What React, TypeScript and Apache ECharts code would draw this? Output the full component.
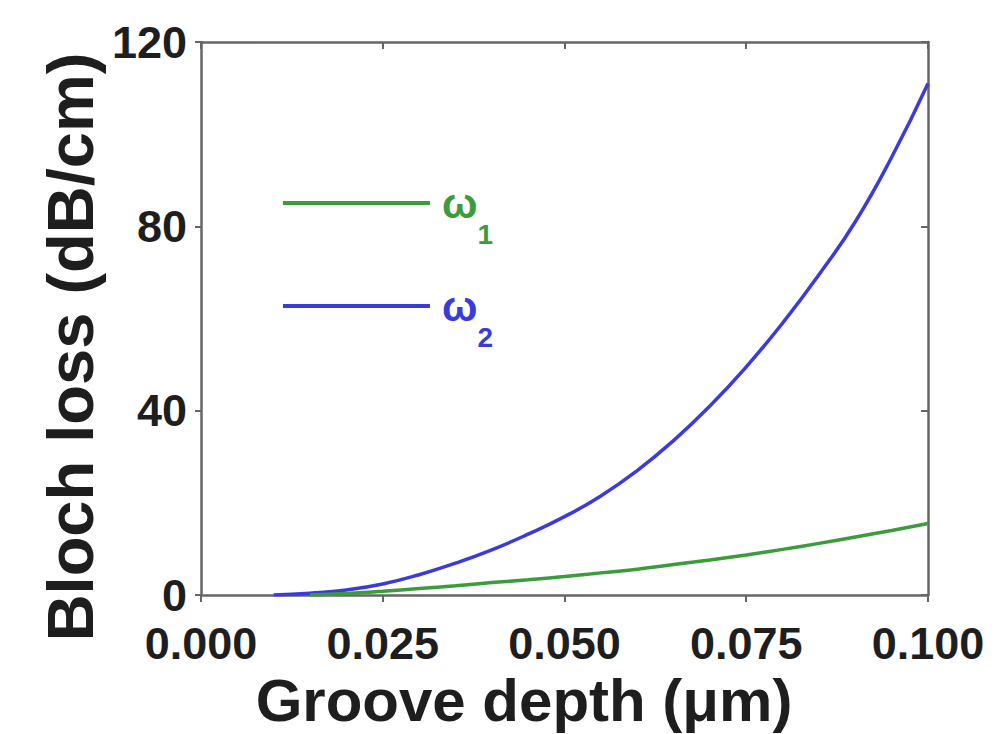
import React, { useEffect, useRef } from "react";
import * as echarts from "echarts";

const depthBlue = [0.010, 0.015, 0.020, 0.025, 0.030, 0.035, 0.040, 0.045, 0.050, 0.055, 0.060, 0.065, 0.070, 0.075, 0.080, 0.085, 0.090, 0.095, 0.100];
const lossOmega2 = [0, 0.4, 1.1, 2.4, 4.4, 6.9, 9.8, 13.2, 17.0, 21.5, 27.0, 33.5, 41.0, 49.5, 59.0, 69.5, 81.0, 95.0, 111.0];
const depthGreen = [0.015, 0.020, 0.025, 0.030, 0.035, 0.040, 0.045, 0.050, 0.055, 0.060, 0.065, 0.070, 0.075, 0.080, 0.085, 0.090, 0.095, 0.100];
const lossOmega1 = [0, 0.3, 0.8, 1.4, 2.0, 2.7, 3.3, 4.0, 4.8, 5.6, 6.6, 7.6, 8.7, 9.9, 11.2, 12.6, 14.0, 15.5];

const xTitle = "Groove depth (\u03bcm)";
const yTitle = "Bloch loss (dB/cm)";
const seriesNames = ["\u03c91", "\u03c92"];
const subscripts = ["1", "2"];

const FONT = "'Liberation Sans', Arial, Helvetica, sans-serif";
const GREEN = "#3c9c3c";
const BLUE = "#3b3bdc";
const AXIS = "#666666";
const TEXT = "#1e1e1e";
const TICK_FONT = 45;

function legendLabel(sub: string, color: string, x: number, yTop: number) {
  return {
    type: "text",
    x,
    y: yTop,
    style: {
      text: `{w|\u03c9}{s|${sub}}`,
      textAlign: "left",
      textVerticalAlign: "top",
      rich: {
        w: { fontFamily: FONT, fontWeight: "bold", fontSize: 42, lineHeight: 42, fill: color, color, verticalAlign: "top" },
        s: { fontFamily: FONT, fontWeight: "bold", fontSize: 28, lineHeight: 28, fill: color, color, padding: [38, 0, 0, 0], verticalAlign: "top" },
      },
    },
  };
}

export default function App() {
  const ref = useRef<HTMLDivElement>(null);
  useEffect(() => {
    if (!ref.current) return;
    const chart = echarts.init(ref.current, undefined, { renderer: "svg" });
    const axisLine = { show: true, onZero: false, lineStyle: { color: AXIS, width: 2.5 } };
    chart.setOption({
      animation: false,
      backgroundColor: "#ffffff",
      grid: { left: 201, right: 66, top: 42, bottom: 139 },
      xAxis: [
        {
          type: "value",
          min: 0,
          max: 0.1,
          interval: 0.025,
          position: "bottom",
          axisLine,
          axisTick: { show: true, inside: false, length: 7, lineStyle: { color: AXIS, width: 2 } },
          axisLabel: {
            color: TEXT,
            fontFamily: FONT,
            fontWeight: "bold",
            fontSize: TICK_FONT,
            lineHeight: TICK_FONT,
            margin: 26,
            formatter: (v: number) => v.toFixed(3),
          },
          splitLine: { show: false },
        },
        {
          type: "value",
          min: 0,
          max: 0.1,
          interval: 0.025,
          position: "top",
          axisLine,
          axisTick: { show: true, inside: true, length: 7, lineStyle: { color: AXIS, width: 2 } },
          axisLabel: { show: false },
          splitLine: { show: false },
        },
      ],
      yAxis: [
        {
          type: "value",
          min: 0,
          max: 120,
          interval: 40,
          position: "left",
          axisLine,
          axisTick: { show: true, inside: false, length: 6, lineStyle: { color: AXIS, width: 2 } },
          axisLabel: {
            color: TEXT,
            fontFamily: FONT,
            fontWeight: "bold",
            fontSize: TICK_FONT,
            lineHeight: TICK_FONT,
            margin: 14,
          },
          splitLine: { show: false },
        },
        {
          type: "value",
          min: 0,
          max: 120,
          interval: 40,
          position: "right",
          axisLine,
          axisTick: { show: true, inside: true, length: 7, lineStyle: { color: AXIS, width: 2 } },
          axisLabel: { show: false },
          splitLine: { show: false },
        },
      ],
      series: [
        {
          name: seriesNames[0],
          type: "line",
          showSymbol: false,
          smooth: true,
          data: depthGreen.map((d, i) => [d, lossOmega1[i]]),
          lineStyle: { color: GREEN, width: 3.5 },
          itemStyle: { color: GREEN },
          z: 3,
        },
        {
          name: seriesNames[1],
          type: "line",
          showSymbol: false,
          smooth: true,
          data: depthBlue.map((d, i) => [d, lossOmega2[i]]),
          lineStyle: { color: BLUE, width: 3.5 },
          itemStyle: { color: BLUE },
          z: 2,
        },
      ],
      graphic: [
        {
          type: "text",
          x: 524,
          y: 700,
          style: {
            text: xTitle,
            fill: TEXT,
            font: `bold 60px ${FONT}`,
            lineHeight: 60,
            textAlign: "center",
            textVerticalAlign: "middle",
          },
        },
        {
          type: "text",
          x: 70,
          y: 347,
          rotation: Math.PI / 2,
          style: {
            text: yTitle,
            fill: TEXT,
            font: `bold 65px ${FONT}`,
            lineHeight: 58,
            textAlign: "center",
            textVerticalAlign: "middle",
          },
        },
        {
          type: "line",
          shape: { x1: 283, y1: 203, x2: 430, y2: 203 },
          style: { stroke: GREEN, lineWidth: 4 },
        },
        {
          type: "line",
          shape: { x1: 283, y1: 306, x2: 430, y2: 306 },
          style: { stroke: BLUE, lineWidth: 4 },
        },
        legendLabel(subscripts[0], GREEN, 442, 182),
        legendLabel(subscripts[1], BLUE, 442, 285),
      ],
    });
    return () => chart.dispose();
  }, []);
  return <div ref={ref} style={{ width: 994, height: 734, position: "absolute", left: 0, top: 0 }} />;
}
